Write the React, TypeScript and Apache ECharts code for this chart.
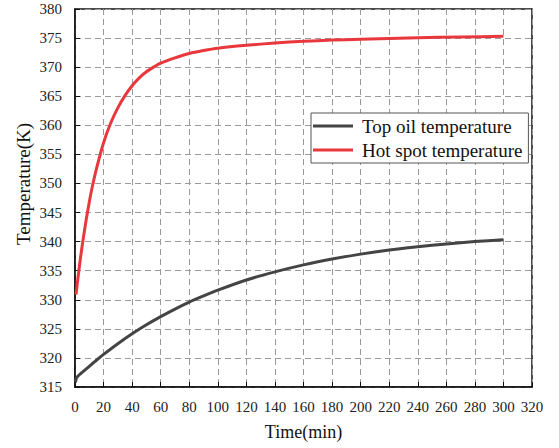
import React, { useEffect, useRef } from "react";
import * as echarts from "echarts";

const hotTime = [0.7, 2, 4, 6, 8, 10, 12, 15, 20, 25, 30, 35, 40, 45, 50, 55, 60, 70, 80, 90, 100, 120, 140, 160, 180, 200, 240, 270, 300];
const hotTemp = [330.9, 333.6, 337.5, 340.9, 344.0, 346.8, 349.3, 352.5, 357.0, 360.4, 363.0, 365.1, 366.8, 368.15, 369.2, 370.0, 370.7, 371.6, 372.35, 372.85, 373.25, 373.75, 374.15, 374.45, 374.65, 374.8, 375.05, 375.2, 375.3];

const oilTime = [0.3, 1, 2, 5, 10, 15, 20, 30, 40, 50, 60, 70, 80, 90, 100, 120, 140, 160, 180, 200, 220, 240, 260, 280, 300];
const oilTemp = [315.8, 316.5, 316.85, 317.5, 318.55, 319.6, 320.6, 322.45, 324.15, 325.7, 327.1, 328.4, 329.6, 330.65, 331.65, 333.4, 334.8, 336.0, 337.0, 337.85, 338.55, 339.1, 339.6, 340.0, 340.3];

const seriesNames = ["Top oil temperature", "Hot spot temperature"];
const xTitle = "Time(min)";
const yTitle = "Temperature(K)";

const FONT = "Liberation Serif";

export default function App() {
  const ref = useRef<HTMLDivElement>(null);
  useEffect(() => {
    if (!ref.current) return;
    const chart = echarts.init(ref.current, null, { renderer: "svg" });
    const pairs = (t: number[], v: number[]) => t.map((x, i) => [x, v[i]]);
    chart.setOption({
      animation: false,
      backgroundColor: "#fff",
      grid: {
        left: 75,
        top: 9,
        right: 27,
        bottom: 61,
        show: true,
        borderColor: "#111",
        borderWidth: 1.5,
        backgroundColor: "transparent",
      },
      legend: {
        orient: "vertical",
        left: 311,
        top: 113,
        data: seriesNames,
        icon: "rect",
        backgroundColor: "#fff",
        borderColor: "#555",
        borderWidth: 1,
        padding: [3, 6, 3, 2],
        itemGap: 4,
        itemWidth: 40,
        itemHeight: 3,
        textStyle: {
          fontFamily: FONT,
          fontSize: 19,
          color: "#111",
          lineHeight: 20,
          padding: [0, 0, 0, 4],
        },
      },
      xAxis: {
        type: "value",
        min: 0,
        max: 320,
        interval: 20,
        name: xTitle,
        nameLocation: "middle",
        nameGap: 36,
        nameTextStyle: { fontFamily: FONT, fontSize: 18, color: "#111" },
        axisLine: { show: true, lineStyle: { color: "#111", width: 1.5 } },
        axisTick: { show: true, inside: true, length: 5, lineStyle: { color: "#111" } },
        axisLabel: { fontFamily: FONT, fontSize: 15, color: "#222", margin: 12 },
        splitLine: { show: true, lineStyle: { color: "#9a9a9a", type: [6, 4], width: 1 } },
      },
      yAxis: {
        type: "value",
        min: 315,
        max: 380,
        interval: 5,
        axisLine: { show: true, lineStyle: { color: "#111", width: 1.5 } },
        axisTick: { show: true, inside: true, length: 5, lineStyle: { color: "#111" } },
        axisLabel: { fontFamily: FONT, fontSize: 15, color: "#222", margin: 13 },
        splitLine: { show: true, lineStyle: { color: "#9a9a9a", type: [6, 4], width: 1 } },
      },
      graphic: [
        {
          type: "text",
          x: 23,
          y: 184,
          rotation: Math.PI / 2,
          style: {
            text: yTitle,
            fontFamily: FONT,
            fontSize: 19,
            fill: "#111",
            textAlign: "center",
            textVerticalAlign: "middle",
          },
        },
      ],
      series: [
        {
          name: seriesNames[0],
          type: "line",
          data: pairs(oilTime, oilTemp),
          smooth: 0.25,
          symbol: "none",
          lineStyle: { color: "#444", width: 3 },
          itemStyle: { color: "#444" },
        },
        {
          name: seriesNames[1],
          type: "line",
          data: pairs(hotTime, hotTemp),
          smooth: 0.25,
          symbol: "none",
          lineStyle: { color: "#e8383d", width: 3 },
          itemStyle: { color: "#e8383d" },
        },
      ],
    });
    return () => chart.dispose();
  }, []);
  return <div ref={ref} style={{ width: 559, height: 448, position: "absolute", left: 0, top: 0 }} />;
}
